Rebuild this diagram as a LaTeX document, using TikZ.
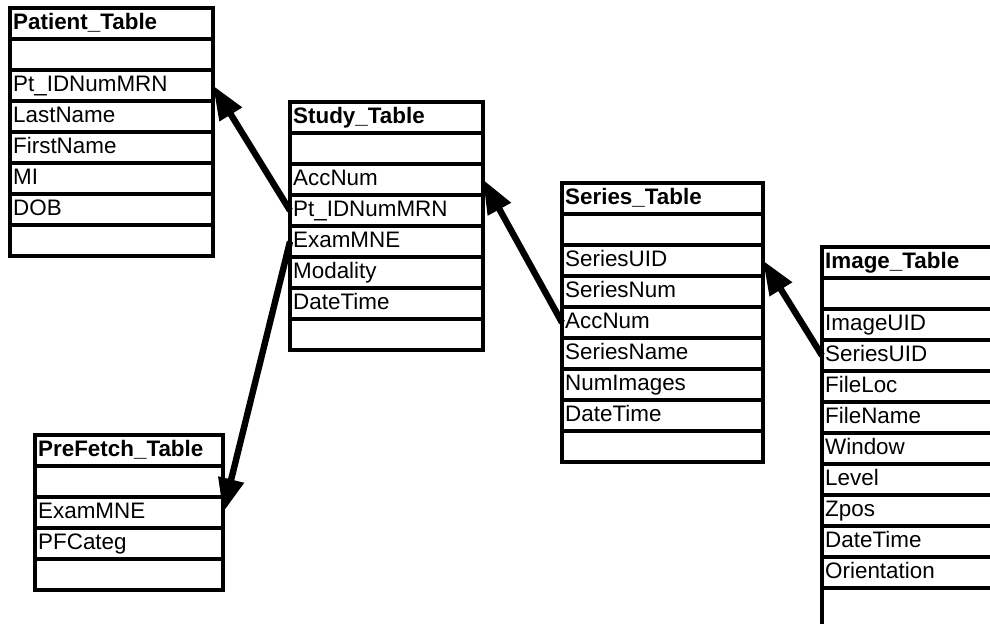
\documentclass[tikz,border=0pt]{standalone}
\usepackage{fontspec}
\setmainfont{Liberation Sans}
\usepackage{tikz}
\usetikzlibrary{arrows.meta, positioning}
\newcommand{\tabfont}{\fontsize{11.2}{13}\selectfont}
\tikzstyle{field} = [rectangle, draw, line width=1.6pt, outer sep=0pt, inner xsep=1.6pt, inner ysep=0pt,
                     minimum height=15.5pt, text height=8.1pt, text depth=2.6pt, align=left, font=\tabfont]
\tikzstyle{title} = [field, font=\tabfont\bfseries]
\tikzstyle{link} = [-{Triangle[length=17pt, width=12.5pt]}, line width=3.2pt]

\begin{document}
\begin{tikzpicture}[x=0.5pt, y=-0.5pt, node distance=0pt]
    \clip (0,0) rectangle (990,623);

    % Patient table
    \begin{scope}[every node/.append style={text width=98.3pt}]
    \node[title, anchor=north west] (patient) at (10,8) {Patient\_Table};
    \node[field, below=of patient] (patient-b1) {};
    \node[field, below=of patient-b1] (patient-pt) {Pt\_IDNumMRN};
    \node[field, below=of patient-pt] (patient-last) {LastName};
    \node[field, below=of patient-last] (patient-first) {FirstName};
    \node[field, below=of patient-first] (patient-mi) {MI};
    \node[field, below=of patient-mi] (patient-dob) {DOB};
    \node[field, below=of patient-dob] (patient-b2) {};
    \end{scope}

    % Study table
    \begin{scope}[every node/.append style={text width=93.3pt}]
    \node[title, anchor=north west] (study) at (290,102) {Study\_Table};
    \node[field, below=of study] (study-b1) {};
    \node[field, below=of study-b1] (study-acc) {AccNum};
    \node[field, below=of study-acc] (study-pt) {Pt\_IDNumMRN};
    \node[field, below=of study-pt] (study-exam) {ExamMNE};
    \node[field, below=of study-exam] (study-mod) {Modality};
    \node[field, below=of study-mod] (study-date) {DateTime};
    \node[field, below=of study-date] (study-b2) {};
    \end{scope}

    % Series table
    \begin{scope}[every node/.append style={text width=97.3pt}]
    \node[title, anchor=north west] (series) at (562,183) {Series\_Table};
    \node[field, below=of series] (series-b1) {};
    \node[field, below=of series-b1] (series-uid) {SeriesUID};
    \node[field, below=of series-uid] (series-num) {SeriesNum};
    \node[field, below=of series-num] (series-acc) {AccNum};
    \node[field, below=of series-acc] (series-name) {SeriesName};
    \node[field, below=of series-name] (series-nimg) {NumImages};
    \node[field, below=of series-nimg] (series-date) {DateTime};
    \node[field, below=of series-date] (series-b2) {};
    \end{scope}

    % Image table (runs off the page)
    \begin{scope}[every node/.append style={text width=91.8pt}]
    \node[title, anchor=north west] (image) at (822,247) {Image\_Table};
    \node[field, below=of image] (image-b1) {};
    \node[field, below=of image-b1] (image-uid) {ImageUID};
    \node[field, below=of image-uid] (image-series) {SeriesUID};
    \node[field, below=of image-series] (image-loc) {FileLoc};
    \node[field, below=of image-loc] (image-file) {FileName};
    \node[field, below=of image-file] (image-win) {Window};
    \node[field, below=of image-win] (image-lev) {Level};
    \node[field, below=of image-lev] (image-z) {Zpos};
    \node[field, below=of image-z] (image-date) {DateTime};
    \node[field, below=of image-date] (image-orient) {Orientation};
    \node[field, below=of image-orient, minimum height=30pt] (image-b2) {};
    \end{scope}

    % PreFetch table
    \begin{scope}[every node/.append style={text width=90.8pt}]
    \node[title, anchor=north west] (prefetch) at (35,435) {PreFetch\_Table};
    \node[field, below=of prefetch] (prefetch-b1) {};
    \node[field, below=of prefetch-b1] (prefetch-exam) {ExamMNE};
    \node[field, below=of prefetch-exam] (prefetch-cat) {PFCateg};
    \node[field, below=of prefetch-cat] (prefetch-b2) {};
    \end{scope}

    % Keys
    \draw[link] (study-pt.west) -- (patient-pt.east);
    \draw[link] (study-exam.west) -- (prefetch-exam.east);
    \draw[link] (series-acc.west) -- (study-acc.east);
    \draw[link] (image-series.west) -- (series-uid.east);
\end{tikzpicture}
\end{document}
